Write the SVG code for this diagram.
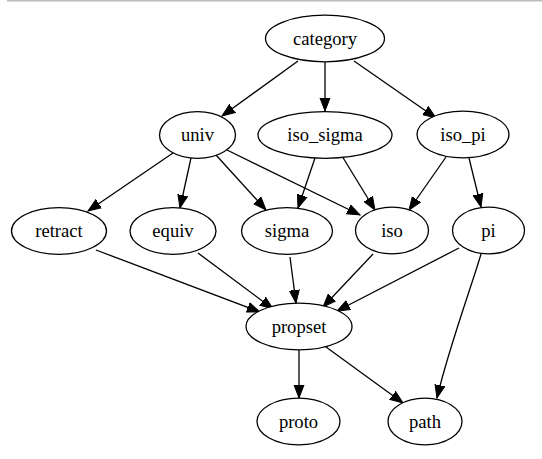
<svg xmlns="http://www.w3.org/2000/svg" width="542" height="459" viewBox="0 0 542 459">
<style>
.n ellipse{fill:#fff;stroke:#000;stroke-width:1.3}
.n text{font-family:"Liberation Serif","Times New Roman",serif;font-size:18.6px;text-anchor:middle;fill:#000}
#edges path{fill:none;stroke:#000;stroke-width:1.3;marker-end:url(#ah)}
</style>
<defs>
<marker id="ah" markerUnits="userSpaceOnUse" markerWidth="14" markerHeight="12" refX="13" refY="5" orient="auto" viewBox="0 0 14 10">
<path d="M0,0 L13,5 L0,10 z" fill="#000" stroke="#000" stroke-width="1"/>
</marker>
</defs>
<rect width="542" height="459" fill="#fff"/>
<line x1="7" y1="0.75" x2="542" y2="0.75" stroke="#bbbbbb" stroke-width="1.5"/>
<g id="edges">
<path d="M298,61 L222,116"/>
<path d="M325,62 L325,111"/>
<path d="M354,61 L436,118"/>
<path d="M173,153 L88,211"/>
<path d="M191,158 L180,208"/>
<path d="M216,155 L266,210"/>
<path d="M227,150 L360,215"/>
<path d="M315,158 L298,208"/>
<path d="M342,156 L375,210"/>
<path d="M446,157 L409,210"/>
<path d="M469,158 L481,207"/>
<path d="M96,250 L260,312"/>
<path d="M198,253 L273,309"/>
<path d="M290,257 L296,303"/>
<path d="M373,254 L323,307"/>
<path d="M459,248 L337,311"/>
<path d="M481,254 C472,285 448,350 437,398"/>
<path d="M299,350 L299,398"/>
<path d="M326,347 L403,403"/>
</g>
<g id="category" class="n"><ellipse cx="325" cy="38.5" rx="59.5" ry="23.3"/><text x="325" y="44.5">category</text></g>
<g id="univ" class="n"><ellipse cx="197.5" cy="135" rx="38" ry="23.3"/><text x="197.5" y="141">univ</text></g>
<g id="iso_sigma" class="n"><ellipse cx="325" cy="135" rx="67" ry="23.3"/><text x="325" y="141">iso_sigma</text></g>
<g id="iso_pi" class="n"><ellipse cx="463" cy="134.5" rx="46" ry="23.3"/><text x="463" y="140.5">iso_pi</text></g>
<g id="retract" class="n"><ellipse cx="59" cy="231" rx="47.5" ry="23.3"/><text x="59" y="237">retract</text></g>
<g id="equiv" class="n"><ellipse cx="173" cy="231" rx="43" ry="23.3"/><text x="173" y="237">equiv</text></g>
<g id="sigma" class="n"><ellipse cx="287" cy="231" rx="45.5" ry="23.3"/><text x="287" y="237">sigma</text></g>
<g id="iso" class="n"><ellipse cx="392" cy="230.5" rx="36.5" ry="23.3"/><text x="392" y="236.5">iso</text></g>
<g id="pi" class="n"><ellipse cx="488.5" cy="230.5" rx="36" ry="23.3"/><text x="488.5" y="236.5">pi</text></g>
<g id="propset" class="n"><ellipse cx="299" cy="326.5" rx="53" ry="23.3"/><text x="299" y="332.5">propset</text></g>
<g id="proto" class="n"><ellipse cx="298.5" cy="421.5" rx="41.5" ry="23.3"/><text x="298.5" y="427.5">proto</text></g>
<g id="path" class="n"><ellipse cx="425" cy="421.5" rx="37" ry="23.3"/><text x="425" y="427.5">path</text></g>
</svg>
